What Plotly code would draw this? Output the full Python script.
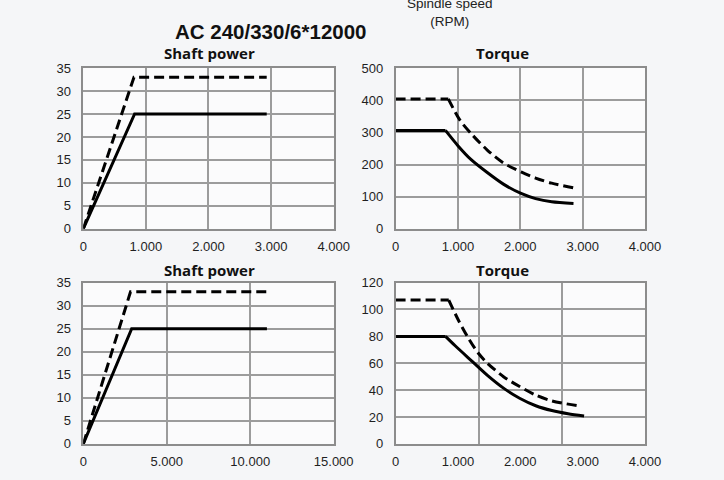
import plotly.graph_objects as go

# ---------------- data ----------------
# Top-left: shaft power (kW) vs spindle speed (rpm)
p1_speed_s1 = [0, 820, 2930]
p1_power_s1 = [0, 25, 25]
p1_speed_s6 = [0, 810, 2930]
p1_power_s6 = [0, 33, 33]

# Top-right: torque (Nm) vs speed (first two points = constant-torque part)
t1_speed_s1 = [0, 800, 1006, 1212, 1470, 1729, 2012, 2245, 2503, 2853]
t1_torque_s1 = [306, 306, 257, 215, 175, 139, 110, 94, 84, 79]
t1_speed_s6 = [0, 845, 1032, 1212, 1470, 1729, 2012, 2245, 2503, 2864]
t1_torque_s6 = [404, 404, 338, 296, 245, 205, 177, 158, 142, 127]

# Bottom-left: shaft power vs speed
p2_speed_s1 = [0, 2900, 11000]
p2_power_s1 = [0, 25, 25]
p2_speed_s6 = [0, 2830, 11000]
p2_power_s6 = [0, 33, 33]

# Bottom-right: torque vs speed
t2_speed_s1 = [0, 801, 956, 1214, 1473, 1731, 1989, 2248, 2507, 2765, 3023]
t2_torque_s1 = [80, 80, 73, 62, 51, 41.5, 34, 28.4, 24.8, 22.4, 20.7]
t2_speed_s6 = [0, 853, 1008, 1163, 1318, 1473, 1731, 1989, 2248, 2507, 2920]
t2_torque_s6 = [107, 107, 92, 79, 68, 60, 50, 42.7, 36.3, 32, 28.4]

x_ticks_4000 = [0, 1000, 2000, 3000, 4000]
x_labels_4000 = ["0", "1.000", "2.000", "3.000", "4.000"]
x_ticks_15000 = [0, 5000, 10000, 15000]
x_labels_15000 = ["0", "5.000", "10.000", "15.000"]

title_text = "AC 240/330/6*12000"
subtitles = ["Shaft power", "Torque", "Shaft power", "Torque"]
speed_label = "Spindle speed<br>(RPM)"

# ---------------- figure ----------------
W, H = 724, 480
fig = go.Figure()

solid = dict(color="#000000", width=3)
dashed = dict(color="#000000", width=3, dash="10px,5px")

def add_line(xs, ys, style, xa, ya, curved):
    if curved:
        # constant part (straight) + decaying part (smooth)
        fig.add_trace(go.Scatter(x=xs[:2], y=ys[:2], mode="lines", line=style,
                                 xaxis=xa, yaxis=ya, showlegend=False, hoverinfo="skip"))
        fig.add_trace(go.Scatter(x=xs[1:], y=ys[1:], mode="lines",
                                 line=dict(style, shape="spline", smoothing=0.8),
                                 xaxis=xa, yaxis=ya, showlegend=False, hoverinfo="skip"))
    else:
        fig.add_trace(go.Scatter(x=xs, y=ys, mode="lines", line=style,
                                 xaxis=xa, yaxis=ya, showlegend=False, hoverinfo="skip"))

add_line(p1_speed_s6, p1_power_s6, dashed, "x", "y", False)
add_line(p1_speed_s1, p1_power_s1, solid, "x", "y", False)
add_line(t1_speed_s6, t1_torque_s6, dashed, "x2", "y2", True)
add_line(t1_speed_s1, t1_torque_s1, solid, "x2", "y2", True)
add_line(p2_speed_s6, p2_power_s6, dashed, "x3", "y3", False)
add_line(p2_speed_s1, p2_power_s1, solid, "x3", "y3", False)
add_line(t2_speed_s6, t2_torque_s6, dashed, "x4", "y4", True)
add_line(t2_speed_s1, t2_torque_s1, solid, "x4", "y4", True)

def px_dom_x(a, b):
    return [a / W, b / W]

def px_dom_y(top, bottom):
    return [1 - bottom / H, 1 - top / H]

grid_col = "#9c9c9c"
tick_font = dict(family="Liberation Sans, Arial, sans-serif", size=13, color="#1f1f1f")

def xaxis(domain, anchor, rng, tv, tt, major_grid=True, minor_vals=None):
    d = dict(domain=domain, anchor=anchor, range=rng, tickmode="array",
             tickvals=tv, ticktext=tt, showgrid=major_grid, gridcolor=grid_col, gridwidth=1.5,
             showline=True, linecolor="#8c8c8c", linewidth=1.5, mirror=True,
             ticks="outside", ticklen=5, tickcolor="rgba(0,0,0,0)",
             tickfont=tick_font, zeroline=False, fixedrange=True)
    if minor_vals is not None:
        d["minor"] = dict(tickmode="array", tickvals=minor_vals, showgrid=True,
                          gridcolor=grid_col, gridwidth=1.5, ticks="")
    return d

def yaxis(domain, anchor, rng, dt):
    return dict(domain=domain, anchor=anchor, range=rng, dtick=dt, tick0=0,
                showgrid=True, gridcolor=grid_col, gridwidth=1.5,
                showline=True, linecolor="#8c8c8c", linewidth=1.5, mirror=True,
                ticks="outside", ticklen=8, tickcolor="rgba(0,0,0,0)",
                tickfont=tick_font, zeroline=False, fixedrange=True)

dx_left = px_dom_x(82, 341)
dx_right = px_dom_x(405, 663)
dy_top = px_dom_y(63, 229)
dy_bot = px_dom_y(284.5, 451)

fig.update_layout(
    width=W, height=H,
    margin=dict(l=0, r=0, t=0, b=0),
    paper_bgcolor="#f5f6f8",
    plot_bgcolor="rgba(255,255,255,0.6)",
    xaxis=xaxis(dx_left, "y", [0, 4000], x_ticks_4000, x_labels_4000),
    yaxis=yaxis(dy_top, "x", [0, 35], 5),
    xaxis2=xaxis(dx_right, "y2", [0, 4000], x_ticks_4000, x_labels_4000),
    yaxis2=yaxis(dy_top, "x2", [0, 500], 100),
    xaxis3=xaxis(dx_left, "y3", [0, 15000], x_ticks_15000, x_labels_15000),
    yaxis3=yaxis(dy_bot, "x3", [0, 35], 5),
    xaxis4=xaxis(dx_right, "y4", [0, 4000], x_ticks_4000, x_labels_4000,
                 major_grid=False, minor_vals=[4000 / 3, 8000 / 3]),
    yaxis4=yaxis(dy_bot, "x4", [0, 120], 20),
)

title_font = dict(family="Liberation Sans, Arial, sans-serif", size=20.5, color="#111111")
sub_font = dict(family="Open Sans, sans-serif", size=15, color="#111111")

ann = [
    dict(text="<b>" + title_text + "</b>", x=276 / W, y=1 - 25 / H, font=title_font),
    dict(text="<b>" + subtitles[0] + "</b>", x=213 / W, y=1 - 48 / H, font=sub_font),
    dict(text="<b>" + subtitles[1] + "</b>", x=516 / W, y=1 - 48 / H, font=sub_font),
    dict(text="<b>" + subtitles[2] + "</b>", x=213 / W, y=1 - 271 / H, font=sub_font),
    dict(text="<b>" + subtitles[3] + "</b>", x=516 / W, y=1 - 271 / H, font=sub_font),
    dict(text=speed_label, x=461 / W, y=1 - 6 / H,
         font=dict(family="Liberation Sans, Arial, sans-serif", size=13.5, color="#222222")),
]
for a in ann:
    a.update(xref="paper", yref="paper", showarrow=False, xanchor="center", yanchor="middle")
fig.update_layout(annotations=ann)

fig.write_html("out.html")
